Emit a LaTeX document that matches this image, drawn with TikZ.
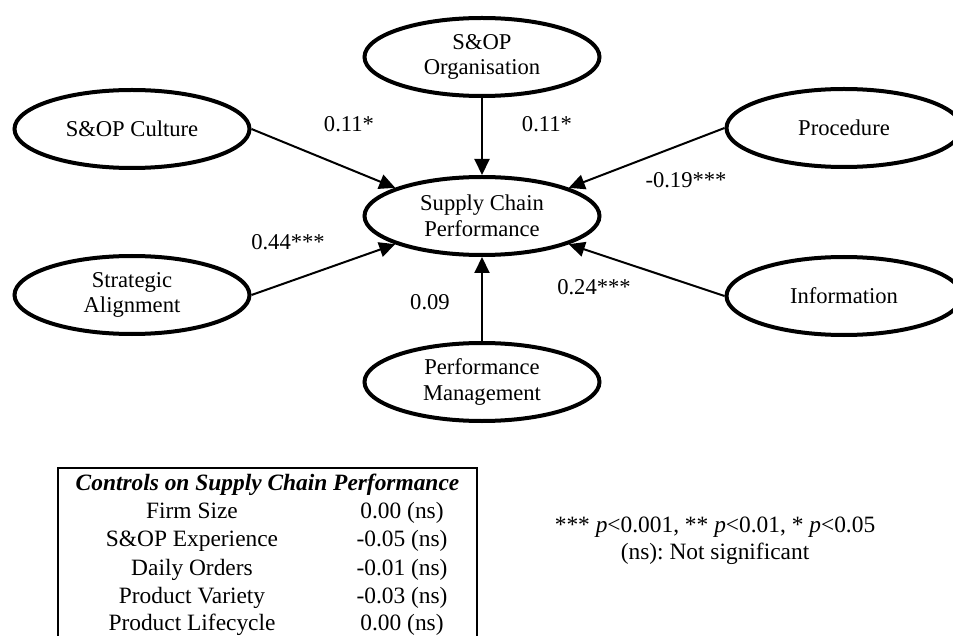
\documentclass[tikz,border=0pt]{standalone}
\usepackage{fontspec}
\setmainfont{Liberation Serif}
\usetikzlibrary{shapes.geometric,arrows.meta}
\frenchspacing
\begin{document}
\begin{tikzpicture}[x=0.5pt,y=-0.5pt,
  construct/.style={ellipse,draw,line width=2pt,inner sep=0pt,
    minimum width=117.5pt,minimum height=39pt,align=center,
    font=\fontsize{11.3}{12.8}\selectfont},
  effect/.style={line width=1pt,-{Triangle[length=8pt,width=7.5pt]}},
  coef/.style={anchor=base,inner sep=0pt,font=\fontsize{11.3}{12.8}\selectfont},
  tabtext/.style={anchor=base,inner sep=0pt,font=\fontsize{11.7}{13.9}\selectfont},
  framebox/.style={draw,line width=1.3pt,inner sep=0pt,minimum width=209.5pt,minimum height=91pt}]
\useasboundingbox (0,0) rectangle (953,636);

% constructs
\node[construct] (scp)     at (482,216) {Supply Chain\\Performance};
\node[construct] (org)     at (482,57)  {S\&OP\\Organisation};
\node[construct] (culture) at (132,129) {S\&OP Culture};
\node[construct] (proc)    at (844,128) {Procedure};
\node[construct] (strat)   at (132,295) {Strategic\\Alignment};
\node[construct] (info)    at (844,296) {Information};
\node[construct] (pm)      at (482,382) {Performance\\Management};

% paths
\draw[effect] (culture.east) -- (scp.162);
\draw[effect] (org.south) -- (scp.north);
\draw[effect] (proc.west) -- (scp.18);
\draw[effect] (strat.east) -- (scp.198);
\draw[effect] (info.west) -- (scp.342);
\draw[effect] (pm.north) -- (scp.south);

% coefficients
\node[coef] (cCulture) at (349,132) {0.11*};
\node[coef] (cOrg)     at (547,132) {0.11*};
\node[coef] (cProc)    at (686,188) {-0.19***};
\node[coef] (cStrat)   at (288,250) {0.44***};
\node[coef] (cInfo)    at (594,294) {0.24***};
\node[coef] (cPM)      at (430,309) {0.09};

% controls table
\node[framebox] (ctrlbox) at (267.5,559) {};
\node[tabtext,font=\fontsize{11.7}{13.9}\selectfont\bfseries\itshape] (thead) at (267.5,490) {Controls on Supply Chain Performance};
\node[tabtext] (n1) at (192,518) {Firm Size};
\node[tabtext] (n2) at (192,546) {S\&OP Experience};
\node[tabtext] (n3) at (192,575) {Daily Orders};
\node[tabtext] (n4) at (192,603) {Product Variety};
\node[tabtext] (n5) at (192,630) {Product Lifecycle};
\node[tabtext] (v1) at (402,518) {0.00 (ns)};
\node[tabtext] (v2) at (402,546) {-0.05 (ns)};
\node[tabtext] (v3) at (402,575) {-0.01 (ns)};
\node[tabtext] (v4) at (402,603) {-0.03 (ns)};
\node[tabtext] (v5) at (402,630) {0.00 (ns)};

% legend
\node[tabtext] (leg1) at (715,532) {*** \textit{p}<0.001, ** \textit{p}<0.01, * \textit{p}<0.05};
\node[tabtext] (leg2) at (715,559) {(ns): Not significant};
\end{tikzpicture}
\end{document}
